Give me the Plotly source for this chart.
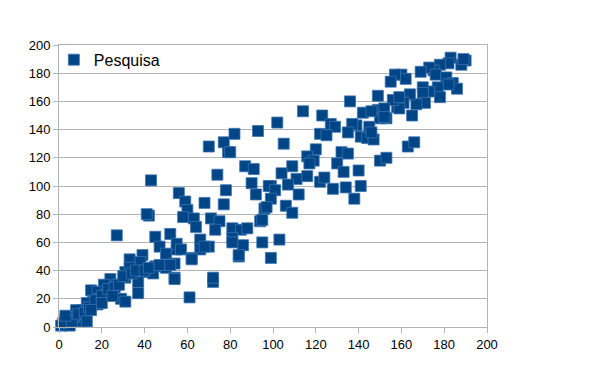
import plotly.graph_objects as go

series_name = "Pesquisa"

pts = [
    # lower-left cluster
    (27,65),(45,64),(52,66),(47,57),(50,52),(55,55),(39,51),(33,48),(38,46),(45,43),(50,42),(54,45),
    (54,35),(41,39),(44,38),(31,39),(33,42),(31,35),(37,32),(37,24),(29,20),(31,18),(24,34),(27,30),
    (24,25),(21,30),(15,26),(18,25),(19,20),(16,18),(13,17),(11,12),(8,12),(10,7),(11,4),(7,7),(4,5),
    (1,1),(5,1),(3,6),(22,23),(18,16),(72,32),(61,21),(84,50),(54,34),
    (2,3),(6,4),(9,9),(12,10),(14,14),(17,19),(20,22),(23,27),(26,28),(28,30),(30,36),(34,38),(20,17),
    (13,4),(3,8),(15,12),(25,22),(36,40),(40,40),(42,42),
    # middle
    (43,104),(42,79),(41,80),(56,95),(59,89),(60,83),(58,78),(63,77),(64,71),(68,88),(71,77),(75,75),
    (73,69),(74,108),(78,97),(77,87),(79,124),(87,114),(91,112),(90,102),(92,94),(96,84),(94,75),(99,100),
    (81,70),(85,69),(88,70),(81,63),(86,58),(95,60),(84,51),(55,59),(57,55),(66,62),(70,57),(66,55),
    (62,49),(47,44),(52,44),(72,35),(99,49),(103,62),(68,57),(62,48),(81,60),
    # upper middle
    (70,128),(77,131),(80,124),(82,137),(93,139),(102,145),(114,153),(123,150),(105,130),(127,144),
    (129,142),(122,137),(125,136),(120,126),(116,121),(119,118),(117,116),(132,124),(135,123),(130,116),
    (133,110),(140,111),(150,118),(153,120),(109,114),(104,109),(111,105),(107,101),(116,107),(122,103),
    (124,106),(128,98),(134,99),(138,91),(98,100),(101,97),(99,91),(112,94),(97,85),(106,86),(109,81),
    (95,76),(136,160),(149,154),(150,148),(158,156),(153,148),(142,152),(139,143),(141,135),(144,134),
    (147,133),(145,142),(137,144),(135,138),(141,100),
    # upper right
    (190,189),(188,186),(189,190),(183,191),(182,187),(178,186),(175,182),(173,184),(169,181),(176,179),
    (181,177),(184,173),(186,169),(182,172),(177,170),(178,163),(173,167),(170,170),(170,166),(171,159),
    (167,158),(165,150),(164,165),(161,159),(159,155),(156,161),(160,179),(162,176),(157,179),(155,174),
    (149,164),(152,155),(152,149),(146,153),(146,138),(163,128),(166,131),(159,163),
]

x_values = [p[0] for p in pts]
y_values = [p[1] for p in pts]

x_ticks = list(range(0, 201, 20))
y_ticks = list(range(0, 201, 20))

fig = go.Figure()
fig.add_trace(go.Scatter(
    x=x_values, y=y_values, mode="markers", name=series_name,
    marker=dict(symbol="square", size=11, color="#004586",
                line=dict(color="#3c74b0", width=0.8)),
    cliponaxis=False,
))

axis_common = dict(
    range=[0, 200], tickmode="array", showline=True, linecolor="#b3b3b3", linewidth=1,
    mirror=True, ticks="outside", ticklen=5, tickcolor="#b3b3b3",
    tickfont=dict(family="Liberation Sans, Arial, sans-serif", size=13, color="#000000"),
    zeroline=False, fixedrange=True,
)
fig.update_xaxes(**axis_common, tickvals=x_ticks, showgrid=False)
fig.update_yaxes(**axis_common, tickvals=y_ticks, showgrid=True, gridcolor="#b3b3b3", gridwidth=1)

fig.update_layout(
    width=604, height=379,
    margin=dict(l=51, r=125, t=37, b=60),
    paper_bgcolor="white", plot_bgcolor="white",
    showlegend=True,
    legend=dict(x=-0.012, y=1.008, xanchor="left", yanchor="top", bgcolor="rgba(0,0,0,0)",
                font=dict(family="Liberation Sans, Arial, sans-serif", size=16, color="#000000"),
                itemwidth=30),
)

fig.write_html("out.html")
